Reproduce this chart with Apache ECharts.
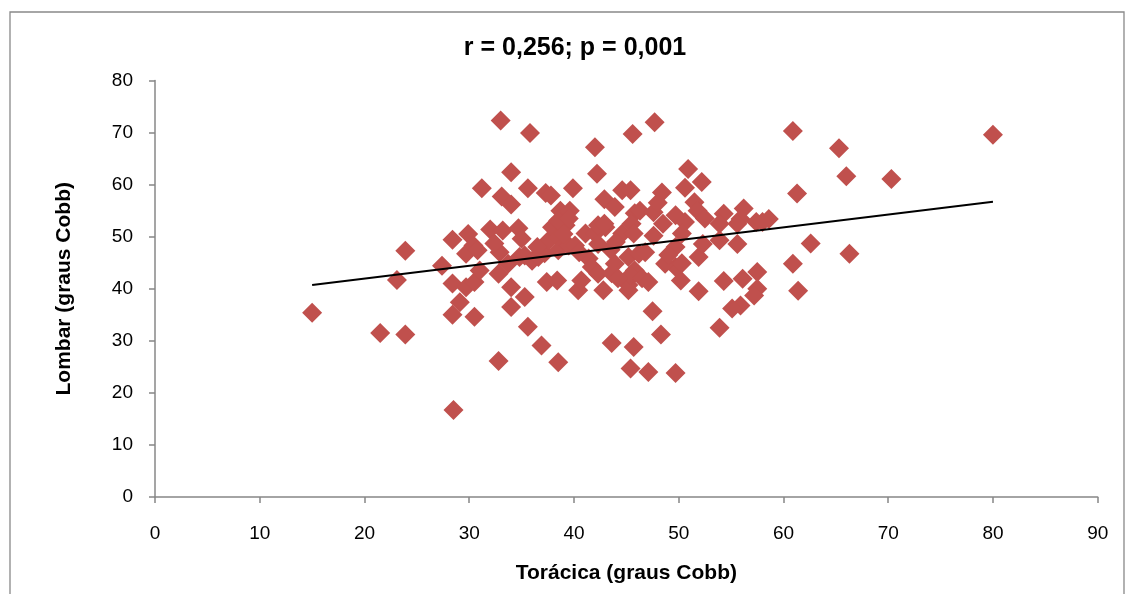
<!DOCTYPE html>
<html>
<head>
<meta charset="utf-8">
<script src="https://cdn.jsdelivr.net/npm/echarts@6/dist/echarts.min.js"></script>
<style>html,body{margin:0;padding:0;background:#fff}#c{width:1133px;height:594px}</style>
</head>
<body>
<div id="c"></div>
<script>
var titleText = 'r = 0,256; p = 0,001';
var xName = 'Torácica (graus Cobb)';
var yName = 'Lombar (graus Cobb)';
var xTicks = [0, 10, 20, 30, 40, 50, 60, 70, 80, 90];
var yTicks = [0, 10, 20, 30, 40, 50, 60, 70, 80];

var toracica = [
  15.0,21.5,23.1,23.9,23.9,27.4,28.4,28.4,28.4,28.5,29.1,29.7,29.9,29.7,30.4,30.8,30.5,31.0,30.5,31.2,
  32.0,33.2,34.7,35.0,32.9,32.4,32.8,33.7,34.0,35.3,34.0,35.6,36.9,32.8,38.5,34.8,35.3,36.0,36.6,37.2,
  37.4,38.4,37.6,37.9,38.5,38.5,39.2,39.5,40.1,40.4,40.7,41.4,41.1,42.0,42.3,43.0,41.7,42.3,42.8,43.6,
  43.9,45.2,43.6,45.8,45.1,45.2,46.2,44.6,
  33.0,35.8,45.6,42.0,34.0,42.2,35.6,33.1,34.0,37.3,37.8,39.9,42.9,44.6,45.4,43.9,38.7,39.6,45.8,38.5,
  42.3,42.9,45.5,
  47.7,50.9,52.2,50.6,48.4,46.3,47.6,49.7,51.5,51.8,54.3,56.2,55.9,58.6,57.4,50.6,52.5,
  60.9,65.3,66.0,70.3,61.3,80.0,62.6,66.3,60.9,61.4,
  57.5,56.1,54.3,57.5,57.2,55.9,55.1,53.9,51.9,50.2,49.7,47.5,48.3,45.7,45.4,47.1,49.7,45.2,45.4,46.5,
  47.1,48.7,50.3,46.8,51.9,45.7,47.6,50.3,52.3,53.9,55.6,53.9,55.6,58.0,49.7,
  39.0,40.5,43.5,44.0,48.5,49.0,36.5,39.5,44.2,48.0
];
var lombar = [
  35.4,31.5,41.7,31.2,47.3,44.4,49.4,41.0,35.0,16.7,37.4,46.7,50.5,40.3,48.3,47.4,41.3,43.5,34.6,59.3,
  51.4,51.2,51.6,49.6,47.0,48.7,42.9,44.8,40.3,38.4,36.5,32.7,29.1,26.1,25.9,46.1,46.4,45.4,46.1,46.8,
  41.3,41.6,49.3,51.8,49.9,47.4,52.2,48.3,48.3,39.7,41.6,45.8,50.6,50.6,48.6,51.8,44.2,42.9,39.7,43.0,
  44.8,39.7,29.6,43.5,41.6,46.1,46.7,50.6,
  72.3,69.9,69.7,67.2,62.4,62.1,59.3,57.7,56.2,58.4,57.9,59.3,57.2,58.9,58.9,55.7,55.0,55.0,54.5,53.1,
  52.2,52.5,52.5,
  72.0,63.0,60.5,59.4,58.5,55.0,54.7,54.1,56.6,55.0,54.4,55.4,53.4,53.4,52.8,52.8,53.5,
  70.3,67.0,61.6,61.1,58.3,69.6,48.7,46.7,44.8,39.6,
  43.2,41.9,41.5,40.0,38.7,36.8,36.2,32.5,39.5,41.6,44.2,35.7,31.2,28.8,24.7,24.0,23.8,40.7,42.6,42.0,
  41.3,44.8,44.9,47.0,46.1,50.6,50.2,50.6,48.6,49.3,48.6,52.5,52.5,52.8,48.0,
  50.5,47.0,47.5,49.0,52.5,46.5,48.0,53.5,42.0,56.5
];
var trendX = [15, 80];
var trendY = [40.7, 56.7];

var pts = toracica.map(function (x, i) { return [x, lombar[i]]; });
var trend = trendX.map(function (x, i) { return [x, trendY[i]]; });

var chart = echarts.init(document.getElementById('c'), null, {renderer: 'canvas'});
var axisGray = '#878787';
var font = '"Liberation Sans", Arial, sans-serif';
chart.setOption({
  animation: false,
  backgroundColor: '#ffffff',
  graphic: [
    {type: 'rect', shape: {x: 10, y: 12, width: 1114, height: 620}, style: {fill: 'none', stroke: '#898989', lineWidth: 1.3}, silent: true, z: -10},
    {type: 'text', x: 575, y: 48, style: {text: titleText, font: 'bold 25px ' + font, fill: '#000', textAlign: 'center', textVerticalAlign: 'middle'}}
  ],
  grid: {left: 155, right: 35.3, top: 80.5, bottom: 97, containLabel: false},
  xAxis: {
    type: 'value', min: xTicks[0], max: xTicks[xTicks.length - 1], interval: 10,
    name: xName, nameLocation: 'middle', nameGap: 66,
    nameTextStyle: {fontFamily: font, fontWeight: 'bold', fontSize: 21, color: '#000'},
    axisLine: {show: true, lineStyle: {color: axisGray, width: 1.5}},
    axisTick: {show: true, length: 6, lineStyle: {color: axisGray, width: 1.5}},
    axisLabel: {fontFamily: font, fontSize: 19, color: '#000', margin: 27},
    splitLine: {show: false}
  },
  yAxis: {
    type: 'value', min: yTicks[0], max: yTicks[yTicks.length - 1], interval: 10,
    name: yName, nameLocation: 'middle', nameGap: 80,
    nameTextStyle: {fontFamily: font, fontWeight: 'bold', fontSize: 21, color: '#000'},
    axisLine: {show: true, lineStyle: {color: axisGray, width: 1.5}},
    axisTick: {show: true, length: 6, lineStyle: {color: axisGray, width: 1.5}},
    axisLabel: {fontFamily: font, fontSize: 19, color: '#000', margin: 22},
    splitLine: {show: false}
  },
  series: [
    {
      type: 'scatter', data: pts, symbol: 'diamond', symbolSize: 20,
      itemStyle: {color: '#C0504D', opacity: 1}, z: 2
    },
    {
      type: 'line', data: trend, symbol: 'none', silent: true,
      lineStyle: {color: '#000', width: 2}, z: 3
    }
  ]
});
</script>
</body>
</html>
